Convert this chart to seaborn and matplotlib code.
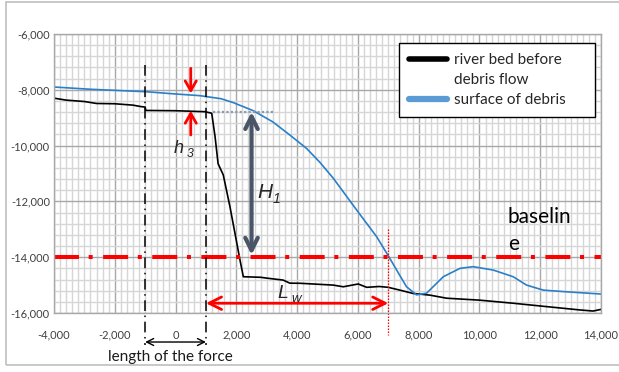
import numpy as np
import pandas as pd
import seaborn as sns
import matplotlib.pyplot as plt
import matplotlib.patches as mpatches
from matplotlib.lines import Line2D
from matplotlib.ticker import MultipleLocator, FuncFormatter

# river bed before debris flow (distance, elevation)
bed_x = [-4000, -3600, -3000, -2600, -2000, -1400, -1150, -1000, -980, 0, 970, 1190,
         1300, 1400, 1570, 1790, 2120, 2230, 2800, 3000, 3540, 3760,
         4100, 5190, 5520, 6010, 6290, 6700, 7000, 7380, 7820, 8370, 8920, 10010,
         11110, 12200, 13300, 13740, 14000]
bed_y = [-8300, -8370, -8420, -8490, -8500, -8550, -8600, -8620, -8740, -8750, -8785, -8840,
         -9680, -10650, -11050, -12190, -14100, -14700, -14720, -14750, -14820, -14930,
         -14935, -15000, -15060, -14960, -15080, -15050, -15080, -15180, -15300, -15360, -15470, -15540,
         -15650, -15770, -15890, -15930, -15870]

# surface of debris
deb_x = [-4000, -2820, -950, 0, 800, 1500, 1900, 2560, 3200, 3760, 4310, 4750, 5190,
         5960, 6620, 7000, 7600, 7930, 8260, 8810, 9360, 9790, 10450, 11110, 11550,
         12100, 12860, 14000]
deb_y = [-7900, -7980, -8070, -8150, -8210, -8320, -8460, -8750, -9150, -9620, -10100, -10600, -11170,
         -12310, -13270, -13950, -15060, -15350, -15290, -14700, -14400, -14340, -14460, -14700, -15000,
         -15180, -15240, -15320]

baseline_y = -14000
force_x = [-1000, 1000]
h3_x = 500
h1_x = 2500
h1_top = -8790
lw_x = [1000, 7000]
lw_y = -15650

df = pd.concat([
    pd.DataFrame({'x': bed_x, 'y': bed_y, 'series': 'river bed before debris flow'}),
    pd.DataFrame({'x': deb_x, 'y': deb_y, 'series': 'surface of debris'}),
])

sns.set_style('white')
plt.rcParams['font.family'] = ['Lato', 'DejaVu Sans']

fig = plt.figure(figsize=(6.19, 3.72), dpi=100)
ax = fig.add_axes([54 / 619, 1 - 313 / 372, 547 / 619, 279 / 372])

# outer chart border
fig.patches.append(mpatches.Rectangle((6 / 619, 1 - 365 / 372), 1.2, 363 / 372,
                                      transform=fig.transFigure, fill=False,
                                      edgecolor='#BFBFBF', lw=1.2))

ax.set_xlim(-4000, 14000)
ax.set_ylim(-16000, -6000)
ax.xaxis.set_major_locator(MultipleLocator(2000))
ax.xaxis.set_minor_locator(MultipleLocator(200))
ax.yaxis.set_major_locator(MultipleLocator(2000))
ax.yaxis.set_minor_locator(MultipleLocator(400))
ax.grid(which='minor', color='#D6D6D6', lw=1.0)
ax.grid(which='major', color='#A8A8A8', lw=1.0)
ax.set_axisbelow(True)
fmt = FuncFormatter(lambda v, p: f'{v:,.0f}')
ax.xaxis.set_major_formatter(fmt)
ax.yaxis.set_major_formatter(fmt)
ax.tick_params(which='both', length=0, labelsize=8, colors='#404040')
ax.tick_params(axis='x', pad=12)
ax.tick_params(axis='y', pad=3)
for s in ax.spines.values():
    s.set_color('#A8A8A8')
    s.set_linewidth(1.0)

sns.lineplot(data=df, x='x', y='y', hue='series', estimator=None, sort=False,
             palette=['black', '#2A7FC9'], lw=1.2, legend=False, ax=ax)
ax.set_xlabel('')
ax.set_ylabel('')


def sub_label(x, y, main, sub, size):
    # italic symbol with an italic subscript
    t = ax.text(x, y, main, fontsize=size, va='baseline', style='italic',
                family='Liberation Sans', color='#262626', zorder=6)
    ax.annotate(sub, xy=(x, y), xytext=(size * 0.72, -size * 0.22), textcoords='offset points',
                fontsize=size * 0.68, va='baseline', style='italic',
                family='Liberation Sans', color='#262626', zorder=6)
    return t


# baseline
ax.axhline(baseline_y, color='red', lw=2.9, ls=(0, (6.2, 2.4, 1.0, 2.6)))

# length of the force
for fx in force_x:
    ax.plot([fx, fx], [-7110, -17150], color='black', lw=1.1,
            ls=(0, (7, 3, 1, 3)), clip_on=False)
ax.annotate('', xy=(force_x[0], -17040), xytext=(force_x[1], -17040),
            arrowprops=dict(arrowstyle='<->,head_length=0.5,head_width=0.25', color='black',
                            lw=1.0, shrinkA=0, shrinkB=0), annotation_clip=False)
ax.text(-180, -17720, 'length of the force', ha='center', va='baseline', fontsize=11,
        color='#1a1a1a', clip_on=False)

# h3
ax.annotate('', xy=(h3_x, -8130), xytext=(h3_x, -7230),
            arrowprops=dict(arrowstyle='->,head_length=0.7,head_width=0.4', color='red',
                            lw=2.0, shrinkA=0, shrinkB=0))
ax.annotate('', xy=(h3_x, -8750), xytext=(h3_x, -9620),
            arrowprops=dict(arrowstyle='->,head_length=0.7,head_width=0.4', color='red',
                            lw=2.0, shrinkA=0, shrinkB=0))
sub_label(-75, -10250, 'h', '3', 13)

# H1
ax.plot([1230, 3270], [h1_top, h1_top], color='#8A9AB5', lw=1.6, ls=(0, (1, 1)))
ax.annotate('', xy=(h1_x, baseline_y + 80), xytext=(h1_x, h1_top),
            arrowprops=dict(arrowstyle='<->,head_length=0.9,head_width=0.45', color='#4A5568',
                            lw=3.0, shrinkA=0, shrinkB=0))
sub_label(2690, -11890, 'H', '1', 15)

# Lw
ax.plot([lw_x[1], lw_x[1]], [-13000, -16800], color='red', lw=0.9, ls=(0, (1.2, 1.2)),
        clip_on=False)
ax.annotate('', xy=(lw_x[0], lw_y), xytext=(lw_x[1], lw_y),
            arrowprops=dict(arrowstyle='<->,head_length=0.9,head_width=0.45', color='red',
                            lw=2.0, shrinkA=0, shrinkB=0))
sub_label(3340, -15470, 'L', 'w', 14)

ax.text(10934, -13742, 'baselin\ne', fontsize=15, va='baseline', linespacing=1.45,
        color='black')

handles = [Line2D([], [], color='black', lw=4),
           Line2D([], [], color='none', lw=0),
           Line2D([], [], color='#5B9BD5', lw=4.5)]
leg = ax.legend(handles, ['river bed before', 'debris flow', 'surface of debris'],
                loc='upper left', bbox_to_anchor=(0.631, 0.968, 0.358, 0.0), mode='expand',
                borderaxespad=0, fontsize=11, handlelength=2.5, handletextpad=0.45,
                frameon=True, fancybox=False, framealpha=1, edgecolor='black',
                borderpad=0.65, labelspacing=0.4)
leg.get_frame().set_linewidth(1.0)

fig.savefig('out.png', dpi=100)
